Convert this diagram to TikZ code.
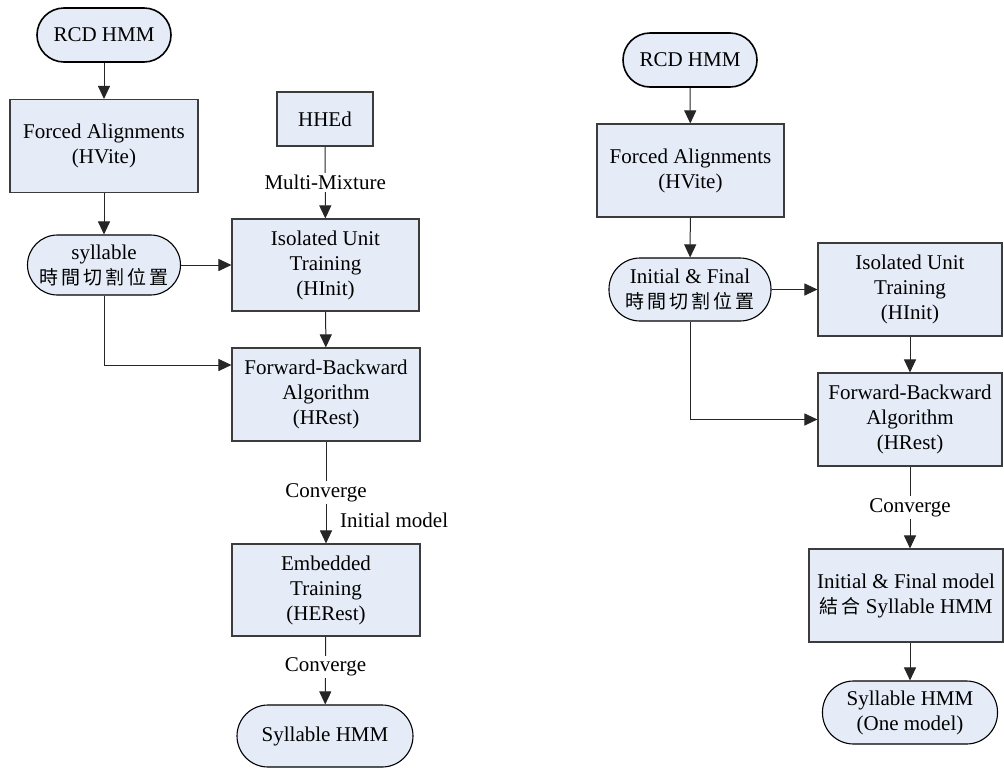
\documentclass[tikz,border=0pt]{standalone}
\usepackage{fontspec}
\setmainfont{Liberation Serif}
\newfontfamily\cjk{Noto Sans CJK TC}
\usetikzlibrary{arrows.meta,calc}

\definecolor{boxfill}{RGB}{229,236,247}
\definecolor{boxline}{RGB}{60,60,60}

\tikzset{
  base/.style={fill=boxfill, align=center, inner sep=0pt,
    font=\fontsize{21}{25}\selectfont},
  stepbox/.style={base, draw=boxline, line width=1.1pt, rectangle},
  terminal/.style={base, draw=black, line width=1.6pt, rectangle},
  flow/.style={draw=black!85, line width=1pt, -{Triangle[length=13pt,width=12pt]}},
  lbl/.style={fill=white, inner sep=2pt, font=\fontsize{21}{25}\selectfont},
}

\newcommand{\zh}[1]{{\cjk\fontsize{19}{25}\selectfont #1}}

\begin{document}
\begin{tikzpicture}[x=1pt,y=-1pt]
\useasboundingbox (0,0) rectangle (1004,769);

% ---------------- left flow ----------------
\node[terminal, minimum width=134pt, minimum height=54pt, rounded corners=27pt] (rcdL) at (104,35) {RCD HMM};
\node[stepbox, minimum width=188pt, minimum height=93pt] (faL) at (104,146) {Forced Alignments\\(HVite)};
\node[terminal, line width=1.1pt, minimum width=153pt, minimum height=60pt, rounded corners=30pt] (sylL) at (104,265) {syllable\\\zh{時\,間\,切\,割\,位\,置}};
\node[stepbox, minimum width=96pt, minimum height=54pt] (hhed) at (325,119) {HHEd};
\node[stepbox, minimum width=187pt, minimum height=92pt] (isoL) at (325.5,265) {Isolated Unit\\Training\\(HInit)};
\node[stepbox, minimum width=188pt, minimum height=93pt] (fbL) at (326,394.5) {Forward-Backward\\Algorithm\\(HRest)};
\node[stepbox, minimum width=188pt, minimum height=92pt] (emb) at (326,590) {Embedded\\Training\\(HERest)};
\node[terminal, line width=1.1pt, minimum width=176pt, minimum height=62pt, rounded corners=31pt] (outL) at (325,736) {Syllable HMM};

\draw[flow] (rcdL) -- (faL);
\draw[flow] (faL) -- (sylL);
\draw[flow] (sylL) -- (isoL);
\draw[flow] (hhed) -- node[lbl] {Multi-Mixture} (isoL);
\draw[flow] (isoL) -- (fbL);
\coordinate (fbLin) at ($(fbL.west)+(0,-29.5)$);
\draw[flow] (sylL.south) |- (fbLin);
\draw[flow] (fbL) -- node[lbl] {Converge} (emb);
\node[anchor=west, inner sep=0pt, font=\fontsize{21}{25}\selectfont] (initm) at (340,520) {Initial model};
\draw[flow] (emb) -- node[lbl, pos=0.45] {Converge} (outL);

% ---------------- right flow ----------------
\node[terminal, minimum width=134pt, minimum height=54pt, rounded corners=27pt] (rcdR) at (690,60) {RCD HMM};
\node[stepbox, minimum width=187pt, minimum height=93pt] (faR) at (690.5,170.5) {Forced Alignments\\(HVite)};
\node[terminal, line width=1.1pt, minimum width=162pt, minimum height=63pt, rounded corners=31pt] (ifR) at (690,289.5) {Initial \& Final\\\zh{時\,間\,切\,割\,位\,置}};
\node[stepbox, minimum width=184pt, minimum height=93pt] (isoR) at (910,289.5) {Isolated Unit\\Training\\(HInit)};
\node[stepbox, minimum width=184pt, minimum height=93pt] (fbR) at (910,419.5) {Forward-Backward\\Algorithm\\(HRest)};
\node[stepbox, minimum width=194pt, minimum height=93pt] (combR) at (906,595.5) {Initial \& Final model\\\zh{結\,合} Syllable HMM};
\node[terminal, line width=1.1pt, minimum width=175pt, minimum height=63pt, rounded corners=31pt] (outR) at (910,712.5) {Syllable HMM\\(One model)};

\draw[flow] (rcdR) -- (faR);
\draw[flow] (faR) -- (ifR);
\draw[flow] (ifR) -- (isoR);
\draw[flow] (isoR) -- (fbR);
\draw[flow] (ifR.south) |- (fbR.west);
\draw[flow] (fbR.south) -- node[lbl] {Converge} (fbR.south |- combR.north);
\draw[flow] (combR.south -| outR) -- (outR);
\end{tikzpicture}
\end{document}
